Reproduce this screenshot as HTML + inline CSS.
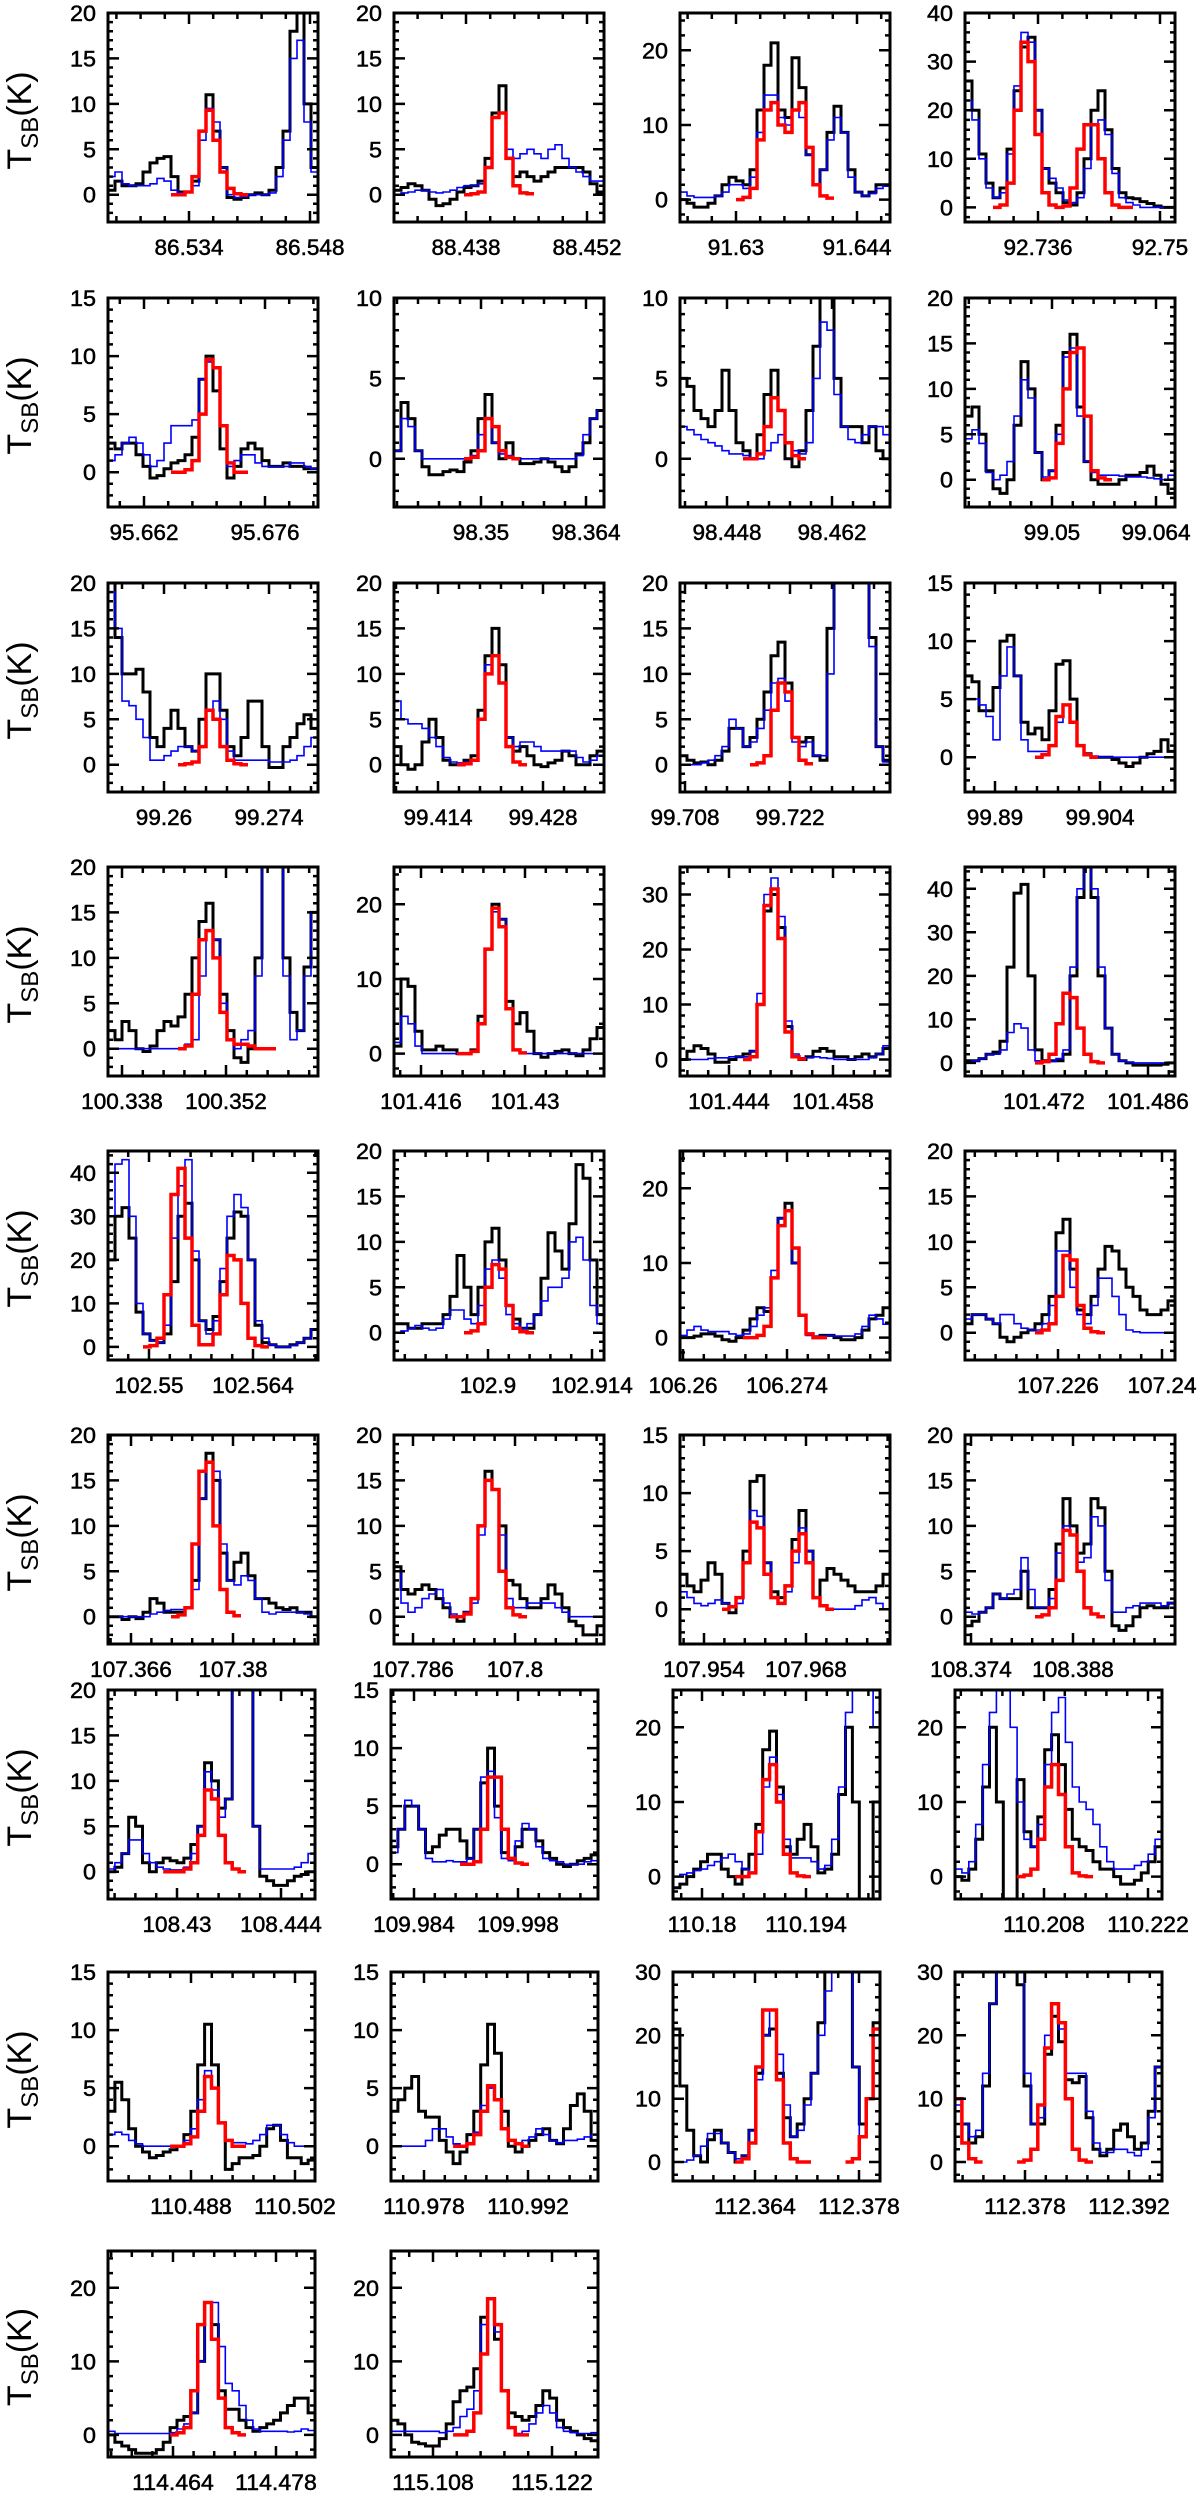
<!DOCTYPE html>
<html><head><meta charset="utf-8"><style>
html,body{margin:0;padding:0;background:#fff;}
svg{display:block;}
text{font-family:"Liberation Sans",sans-serif;fill:#000;}
</style></head><body>
<svg id="fig" width="1200" height="2493" viewBox="0 0 1200 2493" xmlns="http://www.w3.org/2000/svg"></svg>
<script>
// ---- panel axis definitions ----
const labelFreqs = [86.534,88.438,91.63,92.736,95.662,98.35,98.448,99.05,99.26,99.414,99.708,99.89,100.338,101.416,101.444,101.472,102.55,102.9,106.26,107.226,107.366,107.786,107.954,108.374,108.43,109.984,110.18,110.208,110.488,110.978,112.364,112.378,114.464,115.108];
const yMaxes = [20,20,25,40,15,10,10,20,20,20,20,15,20,25,35,45,45,20,25,20,20,20,15,20,20,15,25,25,15,15,30,30,25,25];
const yMin = -3;

// ---- series values (one value per channel, 30 channels per panel) ----
const black = [
[0.5,1.5,1,1,1.2,2.5,3.5,4,4.2,2,0.3,0.3,1.5,7,11,7,3,-0.3,-0.5,-0.3,0,0.2,0,0.5,3,7,18,22,10,3],
[0.5,0.8,1.2,1,0.5,-0.5,-1.2,-1,-0.5,0.3,0.8,1,1.5,4,9,12,4,2,2.5,2,1.5,2,2.5,3,3,3,3,2.5,1.2,0.3],
[0,-0.5,-1,-1,-0.5,0.5,2,3,2.5,2,4,12,18,21,12,11,19,15,6,2,4,9,12.5,9,4,1,0.5,1,2,2],
[26,20,11,5,2,4,12,24,33,35,20,8,5,3,1,0.5,3,10,20,24,16,8,3,2,1.8,1.2,0.8,0.3,0,0],
[2.5,2,2.5,2.5,1.5,0.5,-0.5,-0.3,0.3,0.8,1,1.5,3,8,10,7,2,-0.5,0.5,2,2.5,2,1,0.5,0.5,0.8,0.5,0.5,0.3,0.3],
[0.5,3.5,2.5,0.5,-0.5,-1,-1,-0.8,-0.7,-0.8,-0.2,0.5,2.5,4,1,0,1,0,-0.3,-0.3,-0.2,0,-0.2,-0.5,-0.8,-0.5,0.3,1,2.5,3],
[5,4.5,3,2.5,2,3,5.5,3,1,0.5,0,1.5,4,5.5,3,0,-0.5,0.5,3,7,10,10,5,2,2,2,1,2,0.5,0],
[7,8,5,1,-1,-1.5,0,6,13,10,3,0,1,6,14,16,8,2,0,-0.5,-0.5,-0.5,0,0.5,0.5,0.8,1.5,0.5,-0.5,-1.5],
[20,14,10,10,10.5,8,3,2,4,6,4,2,1.5,5,10,10,6,2,1,3,7,7,2,-0.3,-0.3,2,3,4.5,5.5,4],
[2,0,-0.5,0,2.5,5,3,0.5,0,0,0.5,1,6,12,15,11,3,1.5,2,1,0,-0.2,0.2,0.5,1.5,1,0,0,1,1.5],
[1,0.5,0.2,0.3,0,0.5,1.5,4,4,2,3,5,8,12,13.5,9,3,2.5,3,1,0.5,15,22,22,22,22,22,14,2,0.5],
[7,6.5,4,4,6,10,10.5,7,3,2,2.5,1.5,4,8,8.3,5,1,0.3,0,0,0,-0.2,-0.5,-0.8,-0.5,0,0.3,0.5,1.5,0.5],
[2,1,3,2,0,-0.3,0.3,2,3,2.5,3.5,6,10,14,16,12,6,2,-1,-1.5,0,10,20,22,22,10,4,2,9,15],
[1,10,9,3,0.5,0.5,1,0.5,0.5,0,0,0.5,5,14,20,18,7,4,5.5,3,0,-0.5,0,0.3,0.5,0,-0.3,0.5,2,3.5],
[0,1.5,2.5,2,1,-0.5,-0.5,0,0.5,1,1.5,10,27,30,24,6,0.5,0,0.5,1.5,2,1.5,0.5,0.5,0,0.5,1,0.5,1,2],
[0.5,0.5,1,2,2.5,5,22,39,41,20,3,0.5,0.5,0.5,2,20,38,45,38,20,8,2,0.5,0,-0.5,-0.5,-0.5,-0.5,-0.3,0],
[20,30,32,25,8,3,1.5,1,3,15,30,33,20,6,4,7,15,25,31,30,20,5,1,0.5,0,0,0.5,1,2,4],
[1,1,0.5,0.5,1,1,1,2,4,8.5,5,2,5,10,11.5,8,3,1.5,0.5,0.5,2,6,11,9,7,12,18.5,17,8,2],
[0,0,0.2,0.5,0.5,0.2,-0.3,-0.5,0,1,2.5,4,3.5,8,16,18,10,3,0.5,0,0.3,0.3,0,-0.3,-0.3,0,1,2.5,3,4],
[1,2,2,1.5,1,-0.5,-1,-0.5,0,0.3,1,2,4,11,12.5,7,2.5,2,4,7,9.5,9,7,5,4,2.5,2,2,2.5,3.5],
[0,0,-0.3,0,-0.2,0.5,2,1.5,0.5,0.5,0.5,1,4,13,18,15,7,4,6,7,4.5,2,2,1.5,1,0.8,1,0.5,0.5,0],
[5.5,3,2.5,3,3.5,3,2,1,0,-0.5,0.5,2,10,16,14,10,4,3.5,2,1,1,2,3.5,2.5,1,-0.5,-1,-2,-2,-1],
[3,2,1.5,2.5,4,3,0.5,-0.3,1,5,11,11.5,4,1.5,1,2,6,8.5,5,1,2.5,3.5,3,2.5,2,1.5,1.5,1.5,2,3],
[-1,-0.5,0.5,1,2.5,2,2,2,5,1,1,1,3,8,13,10,7,8,13,12,5,-1,-1.5,-1,0,1,1.2,1,1,1.5],
[0,0.5,2,6,5,1,0,1,1.5,1.2,1,1.5,3,5,12,10,7,8,20,22,20,5,-0.5,-1,-1.5,-1.5,-1,-0.5,-0.3,0],
[1.5,3,5,5,3,1,1.5,2.5,3,3,2,0.5,3,7,10,5,1,0.5,1.5,3,3,2,1,0.5,0,-0.2,0,0.3,0.5,0.8],
[-1.5,-1,0,1,2,3,3,1,0,-1,1,3,7,17,19.5,12,4,3,5,7,4,0.5,1,3,11,20,10,-3,-3,10],
[0,-0.5,1,5,12,20,10,-3,-3,13,6,4,8,17,19,15,9,5,4,3.5,2,1,1,0,-1,-1,-0.5,0.5,2,4],
[3,5.5,4,1.5,0,-0.5,-1,-0.8,-0.5,-0.3,0,1,3,7,10.5,7,2,-2,-1.5,-1,-1,-0.8,0,1.5,1.8,0.5,-1,-1,-1.5,-1.2],
[3,4,5,6,3,2.5,2.5,0.5,-0.5,-1.5,-0.5,1,3,7,10.5,8,3,0,-0.5,0,0.5,1,1.5,0.5,0.2,1.5,3.5,4.5,3,0.5],
[21,12,5,1,0,3.5,5,3,1.5,0,1,5,14,20,21,14,7,4,6,10,14,22,30,30,30,30,15,6,10,22],
[10,6,3,4,12,25,30,30,30,28,12,6,6,17,23,19,13,12.5,13.5,7,2,1,2,5,6,4,2,3,8,15],
[0,-1,-1.5,-2,-2.5,-2.5,-2.5,-2,-1,1,2,2.5,3,10,18,15,6,3.5,3.5,2,1,0.5,1,1.5,2,3,4,5,5,3],
[2,1.5,0,-1,-1.2,-1.5,-1.5,-0.5,1.5,4.5,6,6.5,9,16,18.5,13,6,3,2.5,2,2.5,4,6,5,2,1,0.5,0,-0.5,-0.8]
];
const blue = [
[2,2.5,1.2,1,1,1,1.2,1.8,1.5,0.5,0.2,0.3,1,6,9.5,8,3,0,-0.3,-0.2,0,0,0,0.2,2,6,15,17,8,2.5],
[0,0.2,0.3,0.5,0.5,0.3,0.2,0.3,0.5,0.8,1,1,1.2,3,8.5,9,5,4,4.5,5,4.5,4,5,5.5,4,3,2.5,2,1.5,1.5],
[1,0.5,0.3,0.3,0.3,0.5,1,2,2,1.5,3,9,14,14,11,10,12,11,6,2,4,8,11,9,3,1,0.5,0.8,1.5,1.8],
[22,18,10,4,2,3,11,25,36,34,20,8,6,4,1.5,1,2,8,17,18,15,7,2,1,0.5,0,0,0,0,0],
[1,1.5,2.5,3,2.5,1.5,0.5,1,2.5,4,4,4,4.5,8,9.5,9,4,0.5,1,1.5,1.5,0.8,0.5,0.5,0.5,0.5,0.8,0.8,0.5,0.3],
[0.5,2.5,2,0.5,0,0,0,0,0,0,0,0.2,1.5,2.5,1,0.3,0.2,0,0,0,0,0,0,0,0,0,0.2,1.5,2.5,3],
[2,1.8,1.5,1.2,1,0.8,0.5,0.3,0.3,0.2,0,0,0.5,1,1.5,1,0.5,0.3,1,5,8.5,8,4,2,1.2,1,1.5,2,2,1.5],
[4.5,5.5,4,0.8,0,0.5,2,7,11,9,3,0.3,1,5,13.5,14.5,7,2,0.8,0.5,0.5,0.5,0.4,0.3,0.3,0.3,0.2,0.1,0,0.5],
[19,15,7,6.5,5,3,0.5,0.5,1,1.5,2,2,1.5,2,6,7,5,1.5,0.5,0.5,0.5,0.5,0.5,0.3,0.3,0.3,0.5,1,2,3],
[7,5,4.5,4.5,4,3,2,0.8,0.3,0.2,0.3,0.5,5,11,12,9,3,2,2.5,2.5,2,1.5,1.5,1.5,1.5,1.5,0.8,0.3,0.5,1],
[0,0,0,0.2,0.5,1,2,5,4,2,2.5,4,6,9,9.5,7,2.5,2,2.5,1,1,10,22,22,22,22,22,13,2,0.3],
[5,5,4.5,3.5,1.5,7,9.5,7,1.5,0.5,0.5,0.5,1,3,4.5,3,1,0.3,0.1,0,0,0,0,0,0,0,0,0,0,0],
[0,0,0,0,0,0,0,0,0,0,0,0.5,1,8,13,12,5,1,0,1,2,8,20,22,22,8,1,2,8,15],
[1.5,5,4,1,0,0,0,0,0,0,0,0.3,4,14,19,18,6,0.5,0,0,0,0,0,0,0,0,0,0,0,0],
[0,0,0,0,0.2,0.3,0.3,0.5,0.5,0.5,1.5,12,30,33,26,7,1,0.3,0.3,0.5,0.3,0.2,0,0,0,0,0,0.3,1,2.5],
[0,0.5,1,2,2,3,7,9,8,3,0.5,0.3,0.3,1,3,22,40,45,40,22,8,2,0.5,0.2,0,0,0,0,0,0],
[30,42,43,30,10,3,1.5,1,5,25,37,43,22,6,3,6,18,30,35,32,20,6,2,0.5,0,0,0.3,1,2,4],
[0,0.2,0.5,0.8,0.5,0.3,0.5,1.5,2.5,2.5,1.5,1,3,7,8,6,2,1,0.5,1,2,3.5,5,5,6,10,10.5,8,3,1],
[0.3,1,1.5,1,0.8,0.8,0.8,0.5,0.3,0.5,1.5,3,4,9,16,17,10,3,0.3,0.2,0.2,0.3,0.2,0.2,0.2,0.5,1.5,3,2.5,1.8],
[1.5,2,2,1.5,1,2,2,1,0.5,0.3,0.3,1,3,9,9,5,2,1,3,6,6,4,2,0.3,0.1,0,0,0,0,0],
[0,0,0,0,0,0,0.3,0.5,0.7,0.8,0.8,1,3,13,17,16,8,4,3.5,4.5,4,2,0.5,0.3,0.5,0.5,0.5,0.5,0.3,0],
[5,1.5,0.5,1,2,2.5,3,1.5,0.3,0,0.5,1.5,9,15,14,9,2,1,1,1.5,1.5,1.5,1.5,1,0.5,0,0,0,0,0],
[1.5,1,0.5,0.3,0.5,0.8,0.5,0.3,0.5,4,8.5,8,4,1,0.5,1.5,4,7,5,1,0.3,0,0,0,0,0.3,0.8,1,0.5,0],
[0.5,0.3,0.5,1,2.5,2,2.5,3,6.5,3,1,1,2,7,10,9,6,6.5,11,10,4,0.5,0.5,1,1.2,1.5,1.5,1.5,1.2,1.5],
[0.3,1,2,3.5,3.5,2,1,0.5,0.3,0.2,0.2,0.5,2,5,11,9,6,8,20,22,22,5,0.3,0.3,0.3,0.3,0.3,0.5,1,2],
[1,3,5.5,5,3,0.5,0.2,0.2,0.3,0.2,0.2,0.5,3,7.5,8,4,0.5,0.3,2,3.5,3,1.5,0.5,0.3,0.2,0,0,0,0.2,0.3],
[0,0.3,0.5,0.8,1,1.5,2,2.5,3,2,1,0.5,3,12,16,11,5,2.5,2.5,2.5,2,1,1.5,5,12,22,25,25,25,20],
[1,0.5,2,7,15,22,25,25,20,10,5,4,7,15,22,24,18,12,10,9,7,4,2,1,1,1,1.5,2,3,5],
[1,1.2,1,0.5,0.2,0,0,0,0,0,0,0.5,1.5,4,6.5,5,2,0.5,0.3,0.3,0.2,0.5,1,1.8,1.8,1,0.3,0,0,0],
[0,0,0,0,0,0.5,1.5,1.5,0.8,0.2,0,0.3,1.2,3.5,5,4,1.5,0.5,0.3,0.5,0.8,1.5,1,0.5,0.3,0.5,0.5,0.6,0.8,1],
[0,0,0.3,1,2.5,4.5,4.5,3,1.5,0.5,1,5,13,20,24,17,9,4,5,9,14,20,27,30,30,30,15,4,10,20],
[9,6,4,5,14,25,30,30,30,30,14,6,7,20,25,21,14,14,14,8,3,1.5,1.5,2,2,1.5,1,2,7,15],
[0.5,0.2,0.2,0.2,0.2,0.2,0.2,0.2,0.2,0.3,0.8,1.5,3,10,18,18,12,7,6,4,2,0.8,0.5,0.5,0.5,0.5,0.4,0.5,0.8,0.6],
[0.5,0.5,0.5,0.5,0.5,0.5,0.5,0.3,0.5,1,2.5,3.5,6,15,18.5,14,6,1,0.2,0.5,1.5,3,4,3,1,0.5,0.3,0.2,0.2,0.3]
];
// red fit: per panel, list of [startChannel, values]
const redStarts = [[9],[10],[8],[4],[9],[10],[9],[11],[10],[9],[10],[10],[10],[9],[9],[10],[5],[10],[9],[10],[9],[8],[6],[10],[8],[10],[9],[9],[9],[9],[9,25],[0,9],[9],[9]];
const redValues = [
[[0,0,0.3,2,7,9.3,6,2.5,0.7,0.1,0]],
[[0,0.1,0.3,3,8.5,9,4,1,0.2,0.1]],
[[0,0.3,1.5,8,12,13,10,9,12,13,7,2,0.5,0.2]],
[[0,0.5,5,20,34,30,15,3,0.5,0,0.3,4,12,17,17,10,3,0.5,0,0]],
[[0,0,0.2,1,5,9.7,9,4,0.8,0,0]],
[[0,0.1,0.5,2.5,2,0.5,0.1,0]],
[[0,0,0.3,2,3.8,3,1,0.2,0]],
[[0,0.2,4,10,14,14.5,7,1,0.2,0]],
[[0,0.1,0.3,2,6,5,2,0.5,0.1,0]],
[[0,0.1,0.5,5,10,12,9,2,0.3,0]],
[[0,0.2,1,6,9,8,3,0.5,0.1]],
[[0,0.2,1,3.5,4.5,3,1,0.2,0]],
[[0,0.3,6,12,13,10,4,1,0.5,0.5,0.3,0,0,0]],
[[0,0,0.3,4,14,19.5,17,6,0.5,0.1]],
[[0,0.5,10,28,31,22,5,0.5,0.1]],
[[0,0.3,2,9,16,15,8,2,0.3,0]],
[[0,0.3,2,12,35,41,25,5,0.5,0.5,3,12,21,20,10,2,0.3,0]],
[[0,0.2,1,5,7.5,7,3,0.5,0.1,0]],
[[0,0,0.3,1.5,8,15,17,12,3,0.5,0,0]],
[[0,0.3,1,4,8.5,8,3,0.5,0.1,0]],
[[0,0.2,1,8,16,17,10,3,0.5,0.1]],
[[0,0,0.3,2,10,15,14,5,1,0.2,0]],
[[0,0.2,1,4,7.5,7,3,1,0.5,2,5,6.5,4,1,0.3,0]],
[[0,0.2,1,4,9.5,9,5,1,0.3,0]],
[[0,0,0,0.3,1,4,9,8,4,1,0.3,0]],
[[0,0,0.2,3,7.5,7.5,3,0.5,0.1,0]],
[[0,0,0.5,6,13,15,10,3,0.5,0.1,0]],
[[0,0.2,1,5,12,15,11,4,0.5,0.1,0]],
[[0,0,0.2,0.8,3,6,5,2,0.5,0,0]],
[[0,0,0.2,1,3,5.2,4,1.5,0.5,0.2,0]],
[[0,0.5,3,15,24,24,13,3,0.5,0,0],[0,0.5,4,10,21]],
[[10,3,0.5,0],[0,0.3,2,9,18,25,22,10,2,0.3,0]],
[[0,0.3,1,6,15,18,13,5,1,0.3,0]],
[[0,0,0.5,3,11,18.5,15,6,1,0,0]]
];
// tick label pixel offset of first labelled frequency from box left, and px per 0.014 GHz
const labelOffsets = [81,72,56,73,36,87,47,87,56,44,5,30,14,27,49,79,41,94,3,93,23,19,24,6,69,23,29,89,83,33,82,70,65,42];
const labelSpacings = [121,121,121,122,121,105,105,104,105,105,105,105,104,104,104,104,104,104,104,104,102,102,102,102,104,104,104,104,104,104,104,104,103,119];
</script>
<script>
const NS = "http://www.w3.org/2000/svg";
const svg = document.getElementById('fig');
const rowTops = [13,298,583,867,1151,1435,1690,1972,2251];
const colLefts6 = [108,394,680,965];
const colLefts8 = [108,391,673,955];
const N = 30;
function mk(tag, attrs, parent){
  const e = document.createElementNS(NS, tag);
  for (const k in attrs) e.setAttribute(k, attrs[k]);
  (parent||svg).appendChild(e);
  return e;
}

for (let p = 0; p < labelFreqs.length; p++) {
  const row = Math.floor(p/4), col = p%4;
  const top = rowTops[row];
  const left = row < 6 ? colLefts6[col] : colLefts8[col];
  const W = row < 6 ? 210 : 207;
  const H = row === 8 ? 206 : 209;
  const sp = labelSpacings[p];
  const xmin = labelFreqs[p] - labelOffsets[p]/sp*0.014;
  const xmax = xmin + W/sp*0.014;
  const ymax = yMaxes[p];
  const xs = f => left + (f - xmin)/(xmax - xmin)*W;
  const ys = v => top + (ymax - v)/(ymax - yMin)*H;

  const g = mk('g', {});
  
  

  const clipId = 'clip' + p;
  const cp = mk('clipPath', {id: clipId}, g);
  mk('rect', {x: left, y: top, width: W, height: H}, cp);

  const dw = (xmax - xmin)/N;
  const chanF = i => xmin + (i + 0.5)*dw;
  function stepPath(start, vals){
    let d = '';
    for (let j = 0; j < vals.length; j++) {
      const f = chanF(start + j);
      const x0 = xs(f - dw/2), x1 = xs(f + dw/2), y = ys(vals[j]);
      d += (j === 0 ? 'M' : 'L') + x0.toFixed(1) + ' ' + y.toFixed(1) + 'L' + x1.toFixed(1) + ' ' + y.toFixed(1);
    }
    return d;
  }
  const dataG = mk('g', {'clip-path': 'url(#' + clipId + ')'}, g);
  const bl = mk('path', {d: stepPath(0, black[p]), fill: 'none', stroke: '#000', 'stroke-width': 3}, dataG);
  
  
  const bu = mk('path', {d: stepPath(0, blue[p]), fill: 'none', stroke: '#0000ff', 'stroke-width': 1.6}, dataG);
  
  
  for (let s = 0; s < redValues[p].length; s++) {
    const rd = mk('path', {d: stepPath(redStarts[p][s], redValues[p][s]), fill: 'none', stroke: '#ff0000', 'stroke-width': 3.5}, dataG);
    
    
  }

  const box = mk('rect', {x: left, y: top, width: W, height: H, fill: 'none', stroke: '#000', 'stroke-width': 3}, g);
  
  

  const major = ymax <= 20 ? 5 : 10;
  const minor = ymax <= 20 ? 1 : 2;
  let tk = '';
  for (let v = Math.ceil(yMin/minor)*minor; v <= ymax + 1e-9; v += minor) {
    const y = ys(v).toFixed(1);
    const isMaj = Math.abs(v/major - Math.round(v/major)) < 1e-6;
    const L = isMaj ? 11 : 5;
    tk += 'M' + left + ' ' + y + 'h' + L + 'M' + (left + W) + ' ' + y + 'h' + (-L);
    if (isMaj && v >= 0) {
      const t = mk('text', {x: left - 12, y: (ys(v) + 8).toFixed(1), 'text-anchor': 'end', 'font-size': 22, textLength: String(v).length*13, lengthAdjust: 'spacingAndGlyphs', stroke: '#000', 'stroke-width': 0.5}, g);
      t.textContent = String(v);
      
      
    }
  }
  const mstep = 0.014/5;
  const kStart = Math.ceil((xmin - labelFreqs[p])/mstep);
  for (let k = kStart; labelFreqs[p] + k*mstep <= xmax; k++) {
    const x = xs(labelFreqs[p] + k*mstep).toFixed(1);
    const L = (k % 5 === 0) ? 11 : 6;
    tk += 'M' + x + ' ' + (top + H) + 'v' + (-L) + 'M' + x + ' ' + top + 'v' + L;
  }
  mk('path', {d: tk, stroke: '#000', 'stroke-width': 2.5, fill: 'none'}, g);
  for (let m = 0; m < 2; m++) {
    const f = labelFreqs[p] + m*0.014;
    const txt = parseFloat(f.toFixed(3)).toString();
    const t = mk('text', {x: xs(f).toFixed(1), y: top + H + 33, 'text-anchor': 'middle', 'font-size': 22, textLength: txt.replace('.', '').length*12.6 + 6, lengthAdjust: 'spacingAndGlyphs', stroke: '#000', 'stroke-width': 0.5}, g);
    t.textContent = txt;
    
    
  }

  if (col === 0) {
    const cy = top + H/2 + 3;
    const t = mk('text', {x: 0, y: 0, transform: 'translate(31,' + cy + ') rotate(-90)', 'text-anchor': 'middle', 'font-size': 34}, g);
    
    
    const s1 = mk('tspan', {}, t); s1.textContent = 'T';
    const s2 = mk('tspan', {'font-size': 24, dy: 7}, t); s2.textContent = 'SB';
    const s3 = mk('tspan', {dy: -7}, t); s3.textContent = '(K)';
  }
}
</script>
</body></html>
